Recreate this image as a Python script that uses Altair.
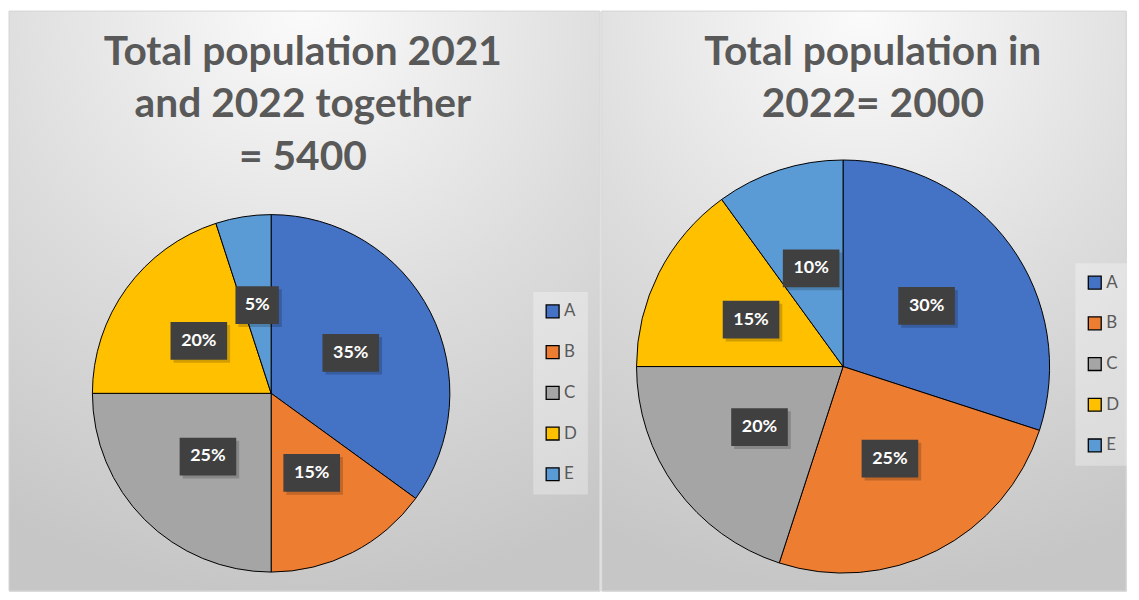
import altair as alt
import pandas as pd

categories = ["A", "B", "C", "D", "E"]
share_2021_2022 = [35, 15, 25, 20, 5]
share_2022 = [30, 25, 20, 15, 10]
slice_colors = ["#4472C4", "#ED7D31", "#A5A5A5", "#FFC000", "#5B9BD5"]
title_left = ["Total population 2021", "and 2022 together", "= 5400"]
title_right = ["Total population in", "2022= 2000"]

H = 584
BOX2 = "M-1.15,-1H1.15V1H-1.15Z"
BOX3 = "M-1.5,-1H1.5V1H-1.5Z"


def panel(values, title_lines, W, cx, cy, r, leg_x, leg_y, title_x):
    df = pd.DataFrame({
        "cat": categories,
        "share": values,
        "idx": list(range(len(categories))),
        "label": [f"{v}%" for v in values],
    })
    base = alt.Chart(df)

    bg = alt.Chart(pd.DataFrame({"k": [0]})).mark_rect(
        fill=alt.RadialGradient(
            gradient="radial",
            stops=[
                alt.GradientStop(offset=0, color="#fbfbfb"),
                alt.GradientStop(offset=0.55, color="#dcdcdc"),
                alt.GradientStop(offset=1, color="#c6c6c6"),
            ],
            x1=0.5, y1=0.0, r1=0, x2=0.5, y2=0.0, r2=1.0,
        ),
        stroke="#d6d6d6",
        strokeWidth=1,
    ).encode(x=alt.value(0), x2=alt.value(W), y=alt.value(0), y2=alt.value(H))

    pie = base.mark_arc(radius=r, stroke="black", strokeWidth=1).encode(
        theta=alt.Theta("share:Q", stack=True),
        order=alt.Order("idx:Q"),
        color=alt.Color(
            "cat:N",
            scale=alt.Scale(domain=categories, range=slice_colors),
            legend=alt.Legend(
                title=None, orient="none", legendX=leg_x, legendY=leg_y,
                symbolType="square", symbolSize=169, symbolStrokeColor="black",
                symbolStrokeWidth=1.3, labelFont="Lato", labelFontSize=17,
                labelColor="#595959", rowPadding=22, padding=11,
                fillColor="rgba(255,255,255,0.3)", labelOffset=3,
            ),
        ),
        x=alt.value(cx),
        y=alt.value(cy),
    )

    lab = base.transform_window(
        cum="sum(share)", sort=[alt.SortField("idx")], frame=[None, 0]
    ).transform_joinaggregate(total="sum(share)").transform_calculate(
        ang="2*PI*(datum.cum - datum.share/2)/datum.total",
        lx=f"{cx} + {0.5 * r}*sin(datum.ang)",
        ly=f"{cy} - {0.5 * r}*cos(datum.ang)",
        sx=f"{cx} + {0.5 * r}*sin(datum.ang) + 3",
        sy=f"{cy} - {0.5 * r}*cos(datum.ang) + 3",
        nch="length(datum.label)",
    )
    xs = alt.Scale(domain=[0, W], nice=False, zero=False)
    ys = alt.Scale(domain=[0, H], nice=False, zero=False, reverse=True)
    shp = alt.Shape("nch:N", scale=alt.Scale(domain=[2, 3], range=[BOX2, BOX3]), legend=None)

    shadow = lab.mark_point(filled=True, fill="black", opacity=0.18, strokeWidth=0).encode(
        x=alt.X("sx:Q", scale=xs, axis=None),
        y=alt.Y("sy:Q", scale=ys, axis=None),
        shape=shp,
        size=alt.value(1444),
    )
    boxes = lab.mark_point(filled=True, fill="#404040", opacity=1, strokeWidth=0).encode(
        x=alt.X("lx:Q", scale=xs, axis=None),
        y=alt.Y("ly:Q", scale=ys, axis=None),
        shape=shp,
        size=alt.value(1444),
    )
    texts = lab.mark_text(font="Lato", fontWeight="bold", fontSize=18, color="white").encode(
        x=alt.X("lx:Q", scale=xs, axis=None),
        y=alt.Y("ly:Q", scale=ys, axis=None),
        text="label:N",
    )

    title = alt.Chart(pd.DataFrame({"k": [0]})).mark_text(
        font="Lato", fontWeight="bold", fontSize=41, color="#595959",
        align="center", baseline="middle", lineHeight=53,
    ).encode(x=alt.value(title_x), y=alt.value(42), text=alt.value(title_lines))

    return alt.layer(bg, pie, shadow, boxes, texts, title).properties(width=W, height=H)


left = panel(share_2021_2022, title_left, 595, 264, 385, 180, 528, 283, 296)
right = panel(share_2022, title_right, 528, 243, 358, 208, 477, 254, 273)

chart = alt.hconcat(left, right, spacing=0).resolve_scale(
    color="independent", shape="independent", x="independent", y="independent"
).properties(padding=0).configure_view(stroke=None).configure(background="white")

chart.save("out.html", embed_options={"renderer": "svg", "actions": False})
